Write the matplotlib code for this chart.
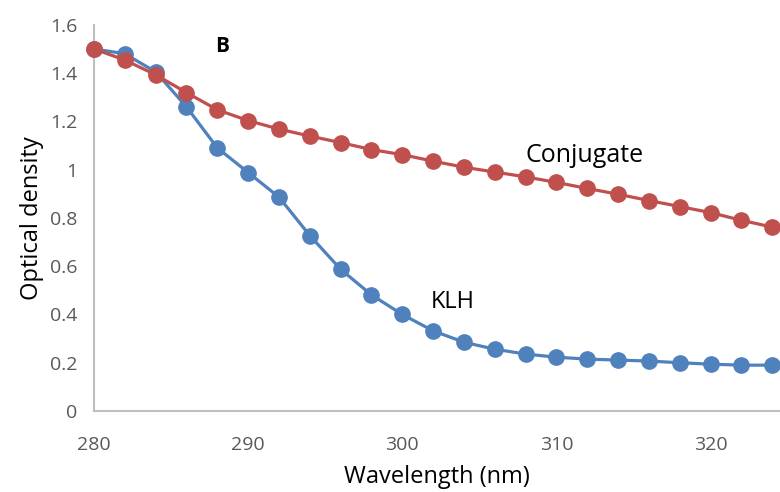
import matplotlib.pyplot as plt

plt.rcParams['font.family'] = ['Open Sans', 'DejaVu Sans']

wavelength = [280, 282, 284, 286, 288, 290, 292, 294, 296, 298, 300, 302,
              304, 306, 308, 310, 312, 314, 316, 318, 320, 322, 324]
klh = [1.50, 1.48, 1.405, 1.26, 1.09, 0.988, 0.886, 0.727, 0.587, 0.481, 0.40, 0.332,
       0.285, 0.256, 0.236, 0.223, 0.215, 0.211, 0.207, 0.20, 0.194, 0.19, 0.19]
conjugate = [1.50, 1.454, 1.393, 1.319, 1.248, 1.203, 1.168, 1.139, 1.112, 1.083, 1.062, 1.035,
             1.01, 0.99, 0.97, 0.947, 0.922, 0.898, 0.872, 0.847, 0.822, 0.79, 0.762]

fig = plt.figure(figsize=(7.8, 4.92), dpi=100)
ax = fig.add_axes([0.1205, 0.1646, 0.8795, 0.785])

ax.plot(wavelength, klh, '-o', color='#4F81BD', lw=2.3, ms=11, zorder=3)
ax.plot(wavelength, conjugate, '-o', color='#C0504D', lw=2.3, ms=11, zorder=4)

ax.set_xlim(280, 324.5)
ax.set_ylim(0, 1.6)
ax.set_xticks([280, 290, 300, 310, 320])
ax.set_yticks([0, 0.2, 0.4, 0.6, 0.8, 1.0, 1.2, 1.4, 1.6])
ax.set_yticklabels(['0', '0.2', '0.4', '0.6', '0.8', '1', '1.2', '1.4', '1.6'])
ax.tick_params(length=0, labelsize=14, labelcolor='#595959')
ax.tick_params(axis='x', pad=18)
ax.tick_params(axis='y', pad=12)

for s in ['top', 'right']:
    ax.spines[s].set_visible(False)
for s in ['left', 'bottom']:
    ax.spines[s].set_color('#BFBFBF')
    ax.spines[s].set_linewidth(1.5)
for line in ax.lines:
    line.set_clip_on(False)

ax.set_xlabel('Wavelength (nm)', fontsize=17, labelpad=8)
ax.set_ylabel('Optical density', fontsize=17, labelpad=4)

ax.text(288.3, 1.509, 'B', fontsize=15, fontweight='bold', ha='center', va='center')
ax.text(308.0, 1.058, 'Conjugate', fontsize=18, ha='left', va='center')
ax.text(303.3, 0.45, 'KLH', fontsize=17, ha='center', va='center')

fig.savefig('out.png', dpi=100)
